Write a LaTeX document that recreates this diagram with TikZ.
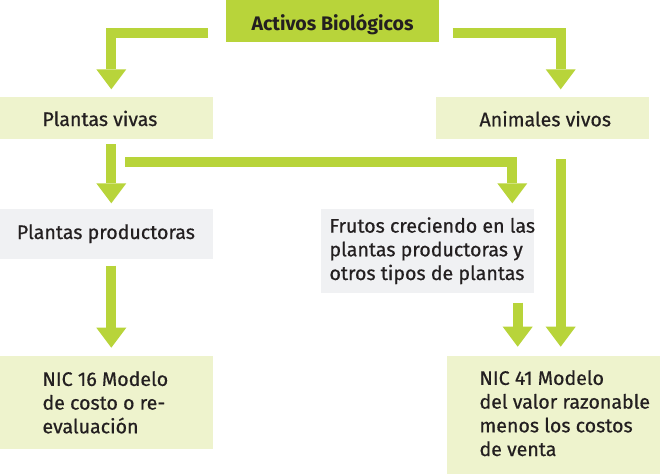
\documentclass[tikz,border=0pt]{standalone}
\usepackage{fontspec}
\setmainfont{Fira Sans}[UprightFeatures={FakeBold=0.6}]
\usetikzlibrary{arrows.meta,calc}
\definecolor{lime}{HTML}{B8D43A}
\definecolor{palegreen}{HTML}{EEF3CD}
\definecolor{palegrey}{HTML}{F0F1F3}
\definecolor{ink}{HTML}{231F20}
\begin{document}
\begin{tikzpicture}[x=1pt,y=-1pt,
  box/.style={draw=none, inner sep=0pt, outer sep=0pt, anchor=north west},
  lbl/.style={inner sep=0pt, anchor=base west, text=ink, font=\fontsize{19.6}{23.7}\selectfont, align=left},
  conn/.style={draw=lime, line width=10pt, line cap=butt, line join=miter,
    -{Triangle[width=30pt,length=20pt,line width=0pt]}}
]
\useasboundingbox (0,0) rectangle (660,474);
% boxes
\node[box, fill=lime, minimum width=213pt, minimum height=42pt] (top) at (226,0) {};
\node[box, fill=palegreen, minimum width=212.7pt, minimum height=42pt] (pv) at (0,96.7) {};
\node[box, fill=palegreen, minimum width=213.3pt, minimum height=42pt] (av) at (436,96.7) {};
\node[box, fill=palegrey, minimum width=212.7pt, minimum height=49.7pt] (pp) at (0,209) {};
\node[box, fill=palegrey, minimum width=213.3pt, minimum height=83.7pt] (fr) at (321,209) {};
\node[box, fill=palegreen, minimum width=212.7pt, minimum height=93.6pt] (n16) at (0,355.7) {};
\node[box, fill=palegreen, minimum width=213.3pt, minimum height=118pt] (n41) at (446.7,356) {};
% texts (multi-line labels are anchored at the baseline of their last line)
\node[lbl, anchor=base, font=\fontsize{19.6}{23.7}\selectfont\bfseries] (ttop) at (332.5,30) {Activos Biológicos};
\node[lbl] (tpv) at (42.3,126) {Plantas vivas};
\node[lbl] (tav) at (479.3,126.3) {Animales vivos};
\node[lbl] (tpp) at (16.7,239) {Plantas productoras};
\node[lbl] (tfr) at (329.3,280) {Frutos creciendo en las\\plantas productoras y\\otros tipos de plantas};
\node[lbl] (tn16) at (42.3,433.3) {NIC 16 Modelo\\de costo o re-\\evaluación};
\node[lbl] (tn41) at (479.3,456) {NIC 41 Modelo\\del valor razonable\\menos los costos\\de venta};
% connector end points
\coordinate (s1) at ($(top.west)+(-18,11.5)$);
\coordinate (e1) at ($(pv.north west)+(111.3,-7.4)$);
\coordinate (s2) at ($(top.east)+(13.7,11.5)$);
\coordinate (e2) at ($(av.north west)+(124.7,-7.4)$);
\coordinate (s3) at ($(pv.south west)+(111.3,5.3)$);
\coordinate (e3) at ($(pp.north west)+(111.3,-5.7)$);
\coordinate (s4) at ($(pv.south west)+(125,23.6)$);
\coordinate (e4) at ($(fr.north west)+(191.3,-5.7)$);
\coordinate (s5) at ($(av.south west)+(124.7,20.6)$);
\coordinate (e5) at ($(n41.north west)+(114,-9.3)$);
\coordinate (s6) at ($(fr.south west)+(196.7,10)$);
\coordinate (e6) at ($(n41.north west)+(71,-9.3)$);
\coordinate (s7) at ($(pp.south west)+(111.3,7)$);
\coordinate (e7) at ($(n16.north west)+(111.3,-8)$);
% connectors
\draw[conn] (s1) -| (e1);
\draw[conn] (s2) -| (e2);
\draw[conn] (s3) -- (e3);
\draw[conn] (s4) -| (e4);
\draw[conn] (s5) -- (e5);
\draw[conn] (s6) -- (e6);
\draw[conn] (s7) -- (e7);
\end{tikzpicture}
\end{document}
